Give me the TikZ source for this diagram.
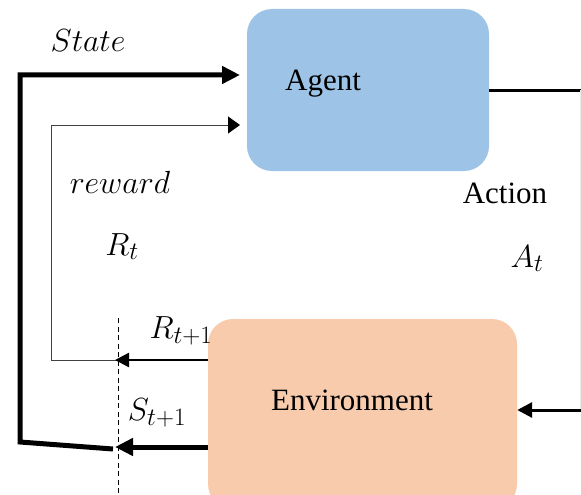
\RequirePackage{fix-cm}
\documentclass[tikz,border=0pt]{standalone}
\usepackage{fontspec}
\setmainfont{Liberation Serif}
\usetikzlibrary{arrows.meta}
\DeclareMathSizes{32}{32}{25}{20}
\definecolor{agentblue}{HTML}{9DC3E6}
\definecolor{envpeach}{HTML}{F8CBAD}
\definecolor{thingray}{HTML}{404040}
\tikzset{
  boxstyle/.style={rounded corners=25pt, inner sep=0pt, draw=none},
  wordlabel/.style={font=\fontsize{31}{36}\selectfont, inner sep=0pt, anchor=base},
  mathlabel/.style={font=\fontsize{32}{38}\selectfont, inner sep=0pt, anchor=base},
  thickline/.style={line width=5pt, line join=miter},
  midline/.style={line width=3pt},
  thinline/.style={line width=1pt, draw=thingray},
  bigtip/.style={-{Triangle[length=18pt,width=17pt]}},
  smalltip/.style={-{Triangle[length=14pt,width=14pt]}},
  dashline/.style={line width=0.8pt, dash pattern=on 5pt off 3.5pt}
}
\begin{document}
\begin{tikzpicture}[x=1pt,y=-1pt]
\useasboundingbox (0,0) rectangle (581,495);
% boxes
\node[boxstyle, fill=agentblue, minimum width=242pt, minimum height=162pt] (agent) at (368,90) {};
\node[boxstyle, fill=envpeach, minimum width=309pt, minimum height=190pt] (env) at (362.5,414) {};
% box texts
\node[wordlabel] (agenttext) at (323,90) {Agent};
\node[wordlabel] (envtext) at (352,410) {Environment};
% coordinates
\coordinate (sTL) at (20,75);
\coordinate (sBL) at (20,442);
\coordinate (sBR) at (113,449);
\coordinate (sIn) at (240,75);
\coordinate (rTL) at (51,125);
\coordinate (rBL) at (51,360);
\coordinate (rBR) at (118,360);
\coordinate (rIn) at (240,125);
\coordinate (rOut) at (208,360);
\coordinate (rTip) at (115,360);
\coordinate (sOut) at (208,447);
\coordinate (sTip) at (115,447);
\coordinate (aTR) at (582,90);
\coordinate (aBR) at (582,410);
\coordinate (dTop) at (118,318);
\coordinate (dBot) at (118,493);
% state loop
\draw[thickline, bigtip] (sBR) -- (sBL) -- (sTL) -- (sIn);
\draw[thickline, bigtip] (sOut) -- (sTip);
% reward loop
\draw[thinline, -{Triangle[length=12pt,width=17pt,black]}] (rBR) -- (rBL) -- (rTL) -- (rIn);
\draw[line width=2.5pt, smalltip] (rOut) -- (rTip);
% action
\draw[midline] (agent.east) -- (aTR);
\draw[line width=1pt, draw=black!8] (580.5,90) -- (580.5,410);
\draw[midline, -{Triangle[length=15pt,width=15pt]}] (aBR) -- (env.east |- aBR);
% dashed separator
\draw[dashline] (dTop) -- (dBot);
% labels
\node[mathlabel] (statelbl) at (88,52) {$State$};
\node[mathlabel] (rewardlbl) at (120,193) {$reward$};
\node[mathlabel] (rtlbl) at (122,255) {$R_t$};
\node[mathlabel] (rt1lbl) at (181,338) {$R_{t+1}$};
\node[mathlabel] (st1lbl) at (157,420) {$S_{t+1}$};
\node[wordlabel] (actionlbl) at (505,203) {Action};
\node[mathlabel] (atlbl) at (527,267) {$A_t$};
\end{tikzpicture}
\end{document}
